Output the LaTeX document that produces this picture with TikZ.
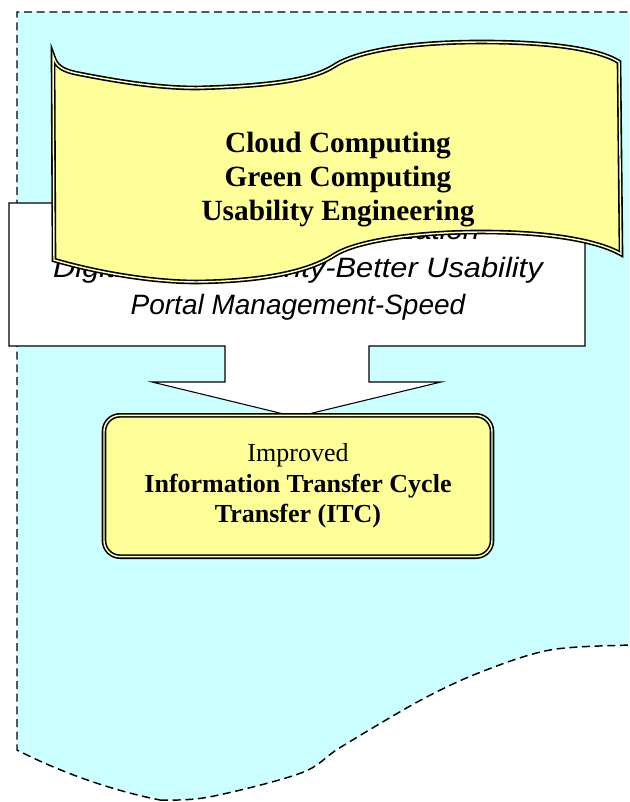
\documentclass[tikz,border=0pt]{standalone}
\usepackage{fontspec}
\setmainfont{Liberation Serif}
\newfontfamily\comicfont{Liberation Sans}
\definecolor{bgcyan}{HTML}{CCFFFF}
\definecolor{paleyel}{HTML}{FFFF99}
\begin{document}
\begin{tikzpicture}[x=0.75pt,y=-0.75pt,
  dashline/.style={draw=black,line width=1.1pt,dash pattern=on 6pt off 3.5pt},
  dblborder/.style={draw=black,line width=1.2pt,double=paleyel!60!white,double distance=1.1pt},
  arrowtext/.style={font=\comicfont\itshape\fontsize{21}{28}\selectfont,align=center,inner sep=0pt},
  bannertext/.style={font=\bfseries\fontsize{22}{25.5}\selectfont,align=center,inner sep=0pt},
  boxtext/.style={font=\fontsize{19.5}{23}\selectfont,align=center,inner sep=0pt}]
\useasboundingbox (0,0) rectangle (629,802);
\begin{scope}
\clip (0,0) rectangle (629,802);
% background region
\path[fill=bgcyan] (17,750) -- (17,12) -- (640,12) -- (640,645)
  -- plot[smooth,tension=0.55] coordinates {(629,645) (550,650) (481,672) (421,700) (341,747) (301,773) (209,797) (160,800)}
  .. controls (110,790) and (60,772) .. (17,750) -- cycle;
\draw[dashline] (640,12) -- (17,12) -- (17,750)
  .. controls (60,772) and (110,790) .. (160,800)
  plot[smooth,tension=0.55] coordinates {(160,800) (209,797) (301,773) (341,747) (421,700) (481,672) (550,650) (629,645) (640,645)};
\end{scope}
% block arrow
\draw[fill=white,line width=0.8pt] (9,203) -- (585,203) -- (585,346) -- (369,346) -- (369,382)
  -- (441,382) -- (296,417) -- (152,382) -- (225,382) -- (225,346) -- (9,346) -- cycle;
\node[arrowtext] (arrowtxt) at (298,270) {\scalebox{1.06}[1]{Information Standardization}\\\scalebox{1.1}[1]{Digitization-Security-Better Usability}\\Portal Management-Speed};
% banner
\draw[dblborder,fill=paleyel] (53,56) .. controls (56,66) and (62,70) .. (75,73)
  .. controls (120,82) and (160,88) .. (197,88)
  .. controls (270,86) and (312,80) .. (334,66)
  .. controls (360,49) and (420,42) .. (481,42)
  .. controls (555,42) and (600,50) .. (619,62)
  -- (621,254)
  .. controls (600,242) and (555,232) .. (481,232)
  .. controls (420,232) and (360,240) .. (336,254)
  .. controls (312,270) and (270,281) .. (197,282)
  .. controls (150,282) and (95,272) .. (54,260) -- cycle;
\node[bannertext] (banner) at (338,180) {Cloud Computing\\Green Computing\\Usability Engineering};
% result box
\node[dblborder,fill=paleyel,rounded corners=12pt,minimum width=291pt,minimum height=106pt,
  boxtext] (itc) at (298,486) {Improved\\\textbf{Information Transfer Cycle}\\\textbf{Transfer (ITC)}};
\end{tikzpicture}
\end{document}
